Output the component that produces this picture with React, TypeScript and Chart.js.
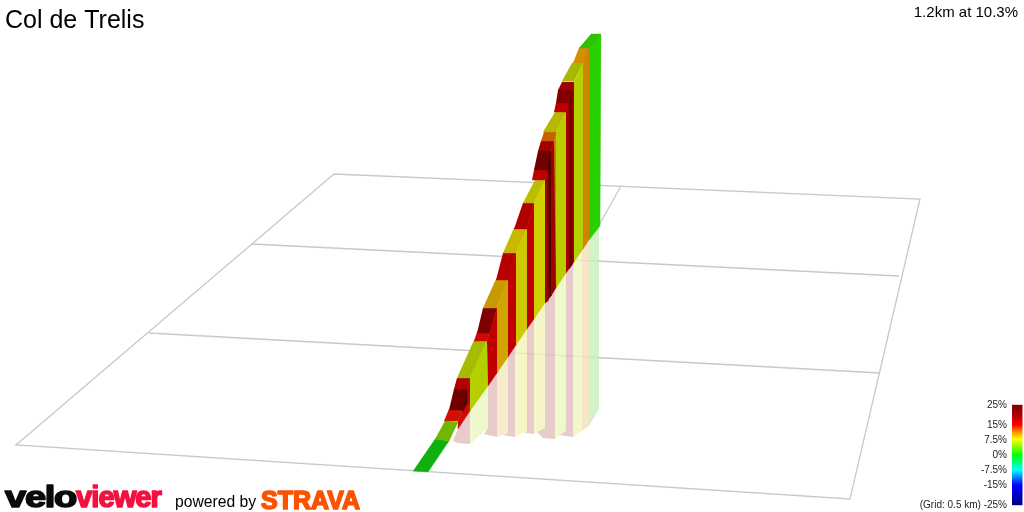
import React, { useEffect, useRef } from "react";
import { Chart, registerables } from "chart.js";

Chart.register(...registerables);

const titleText = "Col de Trelis";
const summaryText = "1.2km at 10.3%";
const scaleLabels = ["25%", "15%", "7.5%", "0%", "-7.5%", "-15%", "(Grid: 0.5 km) -25%"];
const scalePercents = [25, 15, 7.5, 0, -7.5, -15, -25];
const gridColourStops: [number, string][] = [
  [0, "#800000"], [0.08, "#a00000"], [0.2, "#ff0000"], [0.27, "#ff9000"], [0.34, "#ffff00"],
  [0.5, "#00ff00"], [0.65, "#00ffff"], [0.8, "#0000ff"], [1, "#000080"],
];

// Projected ground grid
const gridLines: number[][] = [
  [334, 174, 920, 199, 850, 499, 16, 445, 334, 174],
  [252, 244, 899, 276],
  [149, 333, 880, 373],
  [621, 186, 598, 227],
];

// Pale mirror of the climb below its base line
const mirrorPink = "rgba(226,190,190,0.8)";
const mirrorLime = "rgba(237,245,191,0.8)";
const mirrorGold = "rgba(242,231,190,0.8)";
const mirrorYellow = "rgba(244,242,186,0.8)";
const mirrorOrange = "rgba(244,224,184,0.8)";
const mirrorGreen = "rgba(199,240,186,0.8)";
const mirrorColours = [
  mirrorPink, mirrorLime, mirrorPink, mirrorGold, mirrorPink, mirrorYellow, mirrorPink,
  mirrorYellow, mirrorPink, mirrorLime, mirrorPink, mirrorLime, mirrorOrange, mirrorGreen,
];
const mirrorShapes: number[][] = [
  [458, 429, 470, 411, 470, 444, 458, 443, 453, 441],
  [470, 411, 488, 386, 488, 428, 470, 444],
  [488, 386, 497, 373, 497, 437, 484, 434, 488, 428],
  [497, 373, 508, 357, 508, 433, 497, 437],
  [508, 357, 515, 346, 515, 437, 503, 435, 508, 433],
  [515, 346, 527, 329, 527, 431, 515, 437],
  [527, 329, 534, 319, 534, 434, 525, 433, 527, 431],
  [534, 319, 545, 303, 545, 428, 534, 434],
  [545, 303, 555, 289, 555, 439, 543, 438, 537, 432, 545, 428],
  [555, 289, 566, 273, 566, 431, 555, 439],
  [566, 273, 573, 263, 573, 437, 560, 435, 566, 431],
  [573, 263, 582, 250, 582, 431, 573, 437],
  [582, 250, 589, 240, 589, 426, 582, 431],
  [589, 240, 599, 226, 599, 409, 589, 426],
];

// Side and top faces of the climb, near end first
const faceColours = [
  "#10b010", "#70b800", "#d01000", "#d00a00", "#700000", "#500000", "#b00000", "#b40000",
  "#a5bc00", "#b4d000", "#d00800", "#800000", "#c00000", "#c89a00", "#d0a400",
  "#b80000", "#c00000", "#c8b800", "#d0c800", "#b00000", "#c00000", "#bdbd00", "#d0d000",
  "#c00000", "#700000", "#a00000", "#500000", "#a00000", "#a00000", "#c86000", "#d08000",
  "#b8b800", "#b8cc00", "#c00000", "#800000", "#a00000", "#a80000", "#700000",
  "#a8b800", "#b4d000", "#d09000", "#d08400", "#30c000", "#28d000",
];
const faceShapes: number[][] = [
  [413, 471, 428, 472, 449, 441, 435, 439],
  [435, 439, 449, 441, 458, 422, 445, 421],
  [444, 421, 458, 421, 462, 410, 449, 409],
  [470, 378, 470, 411, 458, 429, 458, 421, 462, 410, 467, 389],
  [449, 410, 462, 410, 467, 389, 454, 389],
  [462, 410, 467, 389, 467, 403, 463, 412],
  [454, 389, 467, 389, 470, 378, 457, 378],
  [467, 389, 470, 378, 470, 400, 467, 406],
  [457, 378, 470, 378, 487, 341, 474, 340],
  [470, 378, 487, 341, 488, 386, 470, 411],
  [474, 341, 487, 341, 490, 332, 477, 332],
  [477, 333, 490, 333, 497, 308, 483, 308],
  [487, 341, 490, 332, 497, 308, 497, 373, 488, 386],
  [483, 308, 497, 308, 508, 279, 496, 279],
  [497, 308, 508, 279, 508, 357, 497, 373],
  [496, 280, 508, 280, 516, 253, 503, 253],
  [508, 279, 516, 253, 516, 345, 508, 357],
  [503, 253, 516, 253, 527, 228, 514, 228],
  [516, 253, 527, 228, 527, 329, 516, 345],
  [514, 229, 527, 229, 534, 203, 523, 203],
  [527, 228, 534, 203, 534, 319, 527, 329],
  [523, 203, 534, 203, 545, 180, 535, 180],
  [534, 203, 545, 180, 545, 303, 534, 319],
  [532, 180, 545, 180, 548, 170, 534, 170],
  [534, 170, 548, 170, 551, 151, 538, 151],
  [538, 151, 551, 151, 554, 141, 541, 141],
  [547, 170, 551, 151, 551, 296, 547, 301],
  [545, 180, 548, 170, 548, 301, 545, 303],
  [551, 151, 554, 141, 556, 140, 556, 288, 551, 296],
  [541, 141, 554, 141, 557, 132, 544, 132],
  [554, 141, 557, 132, 557, 286, 556, 288],
  [543, 132, 556, 132, 566, 112, 555, 112],
  [556, 132, 566, 112, 566, 273, 556, 288],
  [554, 112, 566, 112, 569, 103, 556, 103],
  [556, 103, 569, 103, 572, 90, 558, 90],
  [558, 90, 572, 90, 574, 82, 562, 82],
  [566, 112, 574, 82, 574, 262, 566, 273],
  [569, 103, 572, 90, 572, 265, 569, 269],
  [562, 81, 574, 81, 583, 63, 572, 63],
  [574, 82, 583, 63, 583, 249, 574, 262],
  [573, 63, 584, 63, 590, 48, 579, 48],
  [583, 63, 589, 48, 589, 240, 583, 249],
  [579, 48, 590, 48, 601, 34, 591, 34],
  [589, 48, 601, 34, 600, 226, 589, 240],
];

const toPoints = (flat: number[]) => {
  const pts: { x: number; y: number }[] = [];
  for (let i = 0; i < flat.length; i += 2) pts.push({ x: flat[i], y: flat[i + 1] });
  return pts;
};

export default function App() {
  const ref = useRef<HTMLCanvasElement>(null);

  useEffect(() => {
    document.body.style.margin = "0";
    const canvas = ref.current!;
    const ctx = canvas.getContext("2d")!;

    const barGradient = ctx.createLinearGradient(0, 405, 0, 505);
    gridColourStops.forEach(([o, c]) => barGradient.addColorStop(o, c));

    const polygon = (flat: number[], colour: any, edge = 0.4) => ({
      data: toPoints(flat),
      showLine: true,
      fill: "shape" as const,
      backgroundColor: colour,
      borderColor: colour,
      borderWidth: edge,
      pointRadius: 0,
      tension: 0,
    });

    // Chart.js paints the first dataset on top, so the paint order is reversed here.
    const datasets: any[] = [
      ...gridLines.map((flat) => ({
        data: toPoints(flat),
        showLine: true,
        fill: false,
        borderColor: "#c9c9c9",
        borderWidth: 1.3,
        pointRadius: 0,
        tension: 0,
      })),
      ...mirrorShapes.map((s, i) => polygon(s, mirrorColours[i], 0)),
      ...faceShapes.map((s, i) => polygon(s, faceColours[i])),
      polygon([1012, 405, 1022, 405, 1022, 505, 1012, 505], barGradient),
    ].reverse();

    const textPlugin = {
      id: "chartTexts",
      afterDatasetsDraw(chart: any) {
        const c = chart.ctx;
        const y = chart.scales.y;
        c.save();
        c.textBaseline = "alphabetic";
        c.textAlign = "left";
        c.fillStyle = "#000";
        c.font = '25px "Liberation Sans"';
        c.fillText(titleText, 5, 28);
        c.textAlign = "right";
        c.font = '15px "Liberation Sans"';
        c.fillText(summaryText, 1018, 17);
        c.font = '10px "Liberation Sans"';
        c.fillStyle = "#222";
        scaleLabels.forEach((t, i) => {
          const py = y.getPixelForValue(455 - scalePercents[i] * 2) + 3;
          c.fillText(t, 1007, py);
        });

        c.textAlign = "left";
        c.fillStyle = "#000";
        c.font = '15.7px "Liberation Sans"';
        c.fillText("powered by", 175, 507);

        const logo = (text: string, x: number, base: number, font: string, colour: string, spacing: string, width: number) => {
          c.save();
          c.font = font;
          (c as any).letterSpacing = spacing;
          const w = c.measureText(text).width;
          c.translate(x, base);
          c.scale(width / w, 1);
          c.fillStyle = colour;
          c.strokeStyle = colour;
          c.lineWidth = 1.6;
          c.lineJoin = "round";
          c.strokeText(text, 0, 0);
          c.fillText(text, 0, 0);
          c.restore();
        };
        logo("velo", 5, 507, 'bold 30px "Liberation Sans"', "#0a0a0a", "-1px", 71);
        logo("viewer", 76, 507, 'bold 30px "Liberation Sans"', "#f5103f", "-1px", 85);
        logo("STRAVA", 261, 509, 'bold 25px "Liberation Sans"', "#fc5200", "0px", 99);
        c.restore();
      },
    };

    const chart = new Chart(canvas, {
      type: "scatter",
      data: { datasets },
      options: {
        animation: false,
        responsive: false,
        events: [],
        layout: { padding: 0 },
        plugins: { legend: { display: false }, tooltip: { enabled: false }, title: { display: false } },
        scales: {
          x: { type: "linear", min: 0, max: 1024, display: false },
          y: { type: "linear", min: 0, max: 512, reverse: true, display: false },
        },
      },
      plugins: [textPlugin],
    } as any);

    return () => chart.destroy();
  }, []);

  return <canvas ref={ref} width={1024} height={512} style={{ display: "block" }} />;
}
